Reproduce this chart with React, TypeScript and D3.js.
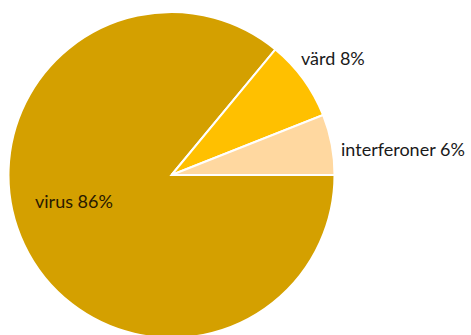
import React from "react";
import * as d3 from "d3";

const categories = ["virus", "värd", "interferoner"];
const values = [86, 8, 6];
const colors = ["#D4A000", "#FFC000", "#FFD8A0"];

const W = 471;
const H = 335;
const cx = 171.5;
const cy = 175;
const R = 163;

export default function App() {
  const pie = d3
    .pie<number>()
    .sort(null)
    .value((d) => d)
    .startAngle(Math.PI / 2)
    .endAngle(Math.PI / 2 + 2 * Math.PI);
  const arcs = pie(values);
  const arc = d3.arc<d3.PieArcDatum<number>>().innerRadius(0).outerRadius(R);
  const labelPos: [number, number][] = [
    [35, 208],
    [301, 65],
    [341, 156],
  ];
  return (
    <svg
      width={W}
      height={H}
      style={{ position: "absolute", left: 0, top: 0, background: "#fff" }}
    >
      <g transform={`translate(${cx},${cy})`}>
        {arcs.map((a, i) => (
          <path
            key={categories[i]}
            d={arc(a) || ""}
            fill={colors[i]}
            stroke="#fff"
            strokeWidth={2}
          />
        ))}
      </g>
      {categories.map((c, i) => (
        <text
          key={c}
          x={labelPos[i][0]}
          y={labelPos[i][1]}
          fontFamily="Lato, 'Open Sans', sans-serif"
          fontSize={18}
          fill={i === 0 ? "#2a1a00" : "#1a1a1a"}
        >
          {`${c} ${values[i]}%`}
        </text>
      ))}
    </svg>
  );
}
